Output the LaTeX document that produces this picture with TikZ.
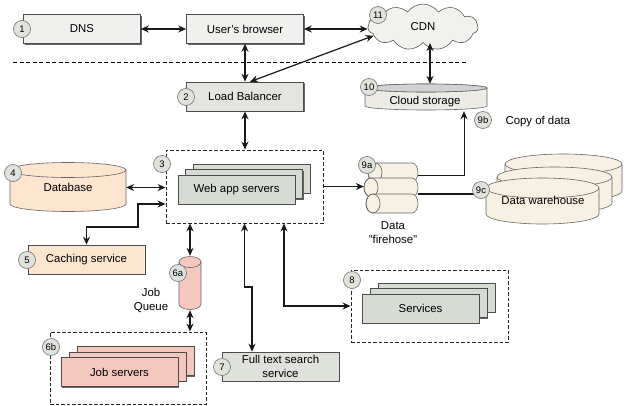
\documentclass[tikz,border=0pt]{standalone}
\usepackage{fontspec}
\setmainfont{Liberation Sans}
\usetikzlibrary{arrows.meta,shapes.symbols,shadows}

\definecolor{lightbox}{HTML}{F0F0EE}
\definecolor{lbcol}{HTML}{E4E4E0}
\definecolor{servercol}{HTML}{D6DBD3}
\definecolor{ftscol}{HTML}{DFE2DB}
\definecolor{peach}{HTML}{FDE5CF}
\definecolor{pinkish}{HTML}{F5C8BD}
\definecolor{cream}{HTML}{F7F1E3}
\definecolor{cloudcol}{HTML}{F1F1EE}
\definecolor{storecol}{HTML}{ECEBE6}
\definecolor{badgecol}{HTML}{DFE3DC}

\tikzset{
  txt/.style={font=\fontsize{11.4}{13.5}\selectfont, align=center},
  box/.style={txt, draw=black!70, line width=0.6pt, inner sep=0pt,
    minimum width=117pt, minimum height=29pt,
    drop shadow={shadow xshift=1pt, shadow yshift=-1pt, fill=black!60, opacity=1}},
  grp/.style={draw=black!85, line width=0.9pt, dash pattern=on 3.5pt off 2pt, inner sep=0pt},
  badge/.style={circle, draw=black!50, line width=0.7pt, fill=badgecol,
    minimum size=17pt, inner sep=0pt, font=\fontsize{9.5}{10}\selectfont},
  cyl/.style={draw=black!60, line width=0.6pt},
  area/.style={inner sep=0pt, txt},
  conn/.style={line width=1.2pt, draw=black!90},
  twoway/.style={{Stealth[length=8pt,width=7pt]}-{Stealth[length=8pt,width=7pt]}},
  oneway/.style={-{Stealth[length=8pt,width=7pt]}},
  cdnshape/.style={cloud, cloud puffs=11, cloud puff arc=110, aspect=2.4,
    draw=black!65, line width=0.6pt, fill=cloudcol, minimum width=110pt,
    minimum height=46pt, inner sep=0pt, txt},
}

% vertical-axis cylinder: x-left, x-right, top-ellipse y, bottom-ellipse y, y radius, fill
\newcommand\vcylinder[6]{%
  \pgfmathsetmacro\cylrad{(#2-#1)/2}%
  \filldraw[cyl, fill=#6] (#1,#3) -- (#1,#4)
    arc[start angle=180, end angle=0, x radius=\cylrad, y radius=#5] -- (#2,#3)
    arc[start angle=0, end angle=-180, x radius=\cylrad, y radius=#5] -- cycle;
  \draw[cyl] (#1,#3) arc[start angle=180, end angle=0, x radius=\cylrad, y radius=#5];
}
% horizontal-axis cylinder, face on the left: x-left, x-right, y-top, y-bottom, fill
\newcommand\hcylinder[5]{%
  \pgfmathsetmacro\cylhr{(#4-#3)/2}%
  \pgfmathsetmacro\cylmid{(#3+#4)/2}%
  \filldraw[cyl, fill=#5] (#1+7,#3) -- (#2-6,#3)
    arc[start angle=-90, end angle=90, x radius=6, y radius=\cylhr] -- (#1+7,#4)
    arc[start angle=90, end angle=270, x radius=7, y radius=\cylhr] -- cycle;
  \draw[cyl] (#1+7,\cylmid) ellipse[x radius=7, y radius=\cylhr];
}

\begin{document}
\begin{tikzpicture}[x=1pt, y=-1pt]
\useasboundingbox (0,0) rectangle (640,405);

% ---- top row ----
\node[box, fill=lightbox] (dns) at (82,29) {DNS};
\node[box, fill=lightbox] (browser) at (245,29) {User's browser};
\node[cdnshape] (cdn) at (423,27) {CDN};

% separator
\coordinate (sepL) at (13,62);
\coordinate (sepR) at (467,62);
\draw[line width=1pt, dash pattern=on 4pt off 2.5pt] (sepL) -- (sepR);

\node[box, fill=lbcol] (lb) at (245,96.5) {Load Balancer};

% cloud storage
\vcylinder{365}{487}{88}{106}{4}{storecol}
\filldraw[cyl, fill=black!18] (426,88) ellipse[x radius=61, y radius=4];
\node[area, minimum width=122pt, minimum height=27pt] (store) at (426,97.5) {};
\node[txt] (storelabel) at (425,102) {Cloud storage};

% ---- web tier ----
\node[grp, minimum width=157pt, minimum height=73pt] (webgrp) at (244.5,186.5) {};
\node[box, fill=servercol] (web3) at (251.5,178.5) {};
\node[box, fill=servercol] (web2) at (244,184) {};
\node[box, fill=servercol] (web) at (236.5,189.5) {Web app servers};

% database
\vcylinder{10}{126}{170}{204}{7.5}{peach}
\node[area, minimum width=116pt, minimum height=49pt] (db) at (68,187.5) {Database};

% caching
\node[box, fill=peach] (cache) at (86.5,259.5) {Caching service};

% job queue
\vcylinder{179}{201}{262}{304}{5.5}{pinkish}
\node[area, minimum width=22pt, minimum height=54pt] (jq) at (190,283) {};
\node[txt] (jqlabel) at (151,300.5) {Job\\Queue};

% job servers
\node[grp, minimum width=156pt, minimum height=72pt] (jobgrp) at (128,368) {};
\node[box, fill=pinkish] (job3) at (135.5,361) {};
\node[box, fill=pinkish] (job2) at (127.5,366.5) {};
\node[box, fill=pinkish] (job) at (119.5,372) {Job servers};

% full text search
\node[box, fill=ftscol, minimum height=29pt] (fts) at (280.5,366.5) {Full text search\\service};

% services
\node[grp, minimum width=157pt, minimum height=72pt] (svcgrp) at (429.5,306) {};
\node[box, fill=servercol] (svc3) at (436.5,297.5) {};
\node[box, fill=servercol] (svc2) at (428.5,303) {};
\node[box, fill=servercol] (svc) at (420.5,308.5) {Services};

% data firehose
\hcylinder{368}{418}{163}{182}{cream}
\hcylinder{364}{418}{178}{197}{cream}
\hcylinder{366}{418}{194}{213}{cream}
\node[area, minimum width=54pt, minimum height=50pt] (fh) at (391,188) {};
\node[txt] (fhlabel) at (393,232.5) {Data\\"firehose"};

% data warehouse
\vcylinder{505}{622}{164}{191}{10}{cream}
\vcylinder{497}{612}{177}{203}{10}{cream}
\vcylinder{486}{599}{188}{214}{10}{cream}
\node[area, minimum width=113pt, minimum height=46pt] (dw) at (542.5,201) {};
\node[txt] (dwlabel) at (543,200) {Data warehouse};

\node[txt, anchor=west] (copy) at (502,122) {Copy of data};

% ---- connectors ----
\draw[conn, twoway] (dns) -- (browser);
\draw[conn, twoway] (browser) -- (lb);
\draw[conn, twoway] (browser.east) -- (browser.east -| cdn.west);
\draw[conn, twoway] ([xshift=5pt]lb.north) -- (cdn.190);
\draw[conn, twoway] ([xshift=7pt]cdn.south) -- ([xshift=7pt]cdn.south |- store.north);
\draw[conn, twoway] (lb) -- (lb.south |- webgrp.north);
\draw[conn, twoway] (db.east) -- (db.east -| webgrp.west);

\coordinate (cachebendA) at (138,204);
\coordinate (cachebendB) at (138,227);
\draw[conn, twoway] (cachebendA -| webgrp.west) -- (cachebendA) -- (cachebendB) -| (cache.north);

\draw[conn, twoway] (jq.north |- webgrp.south) -- (jq.north);
\draw[conn, twoway] (jq.south) -- (jq.south |- jobgrp.north);

\coordinate (ftsbend) at (252,287);
\draw[conn, twoway] (webgrp.south) |- (ftsbend) -- (ftsbend |- fts.north);

\coordinate (svcbend) at (284,306);
\draw[conn, twoway] (svcbend |- webgrp.south) -- (svcbend) -- (svcbend -| svcgrp.west);

\draw[conn, oneway] (webgrp.east) -- (webgrp.east -| fh.west);
\coordinate (fhbend) at (464,175);
\draw[conn, oneway, line width=0.8pt] (fhbend -| fh.east) -- (fhbend) -- (fhbend |- store.south);
\coordinate (fhout) at (418,194);
\draw[conn, oneway] (fhout) -- (fhout -| dw.west);

% ---- badges ----
\node[badge] (b1) at (22,29) {1};
\node[badge] (b2) at (186,97) {2};
\node[badge] (b3) at (162,164) {3};
\node[badge] (b4) at (13,173) {4};
\node[badge] (b5) at (27,260) {5};
\node[badge] (b6a) at (178,273) {6a};
\node[badge] (b6b) at (51,347) {6b};
\node[badge] (b7) at (222,367) {7};
\node[badge] (b8) at (352,280) {8};
\node[badge] (b9a) at (367,165) {9a};
\node[badge] (b9b) at (483,120) {9b};
\node[badge] (b9c) at (481,190) {9c};
\node[badge] (b10) at (369,87) {10};
\node[badge] (b11) at (378,15) {11};
\end{tikzpicture}
\end{document}
